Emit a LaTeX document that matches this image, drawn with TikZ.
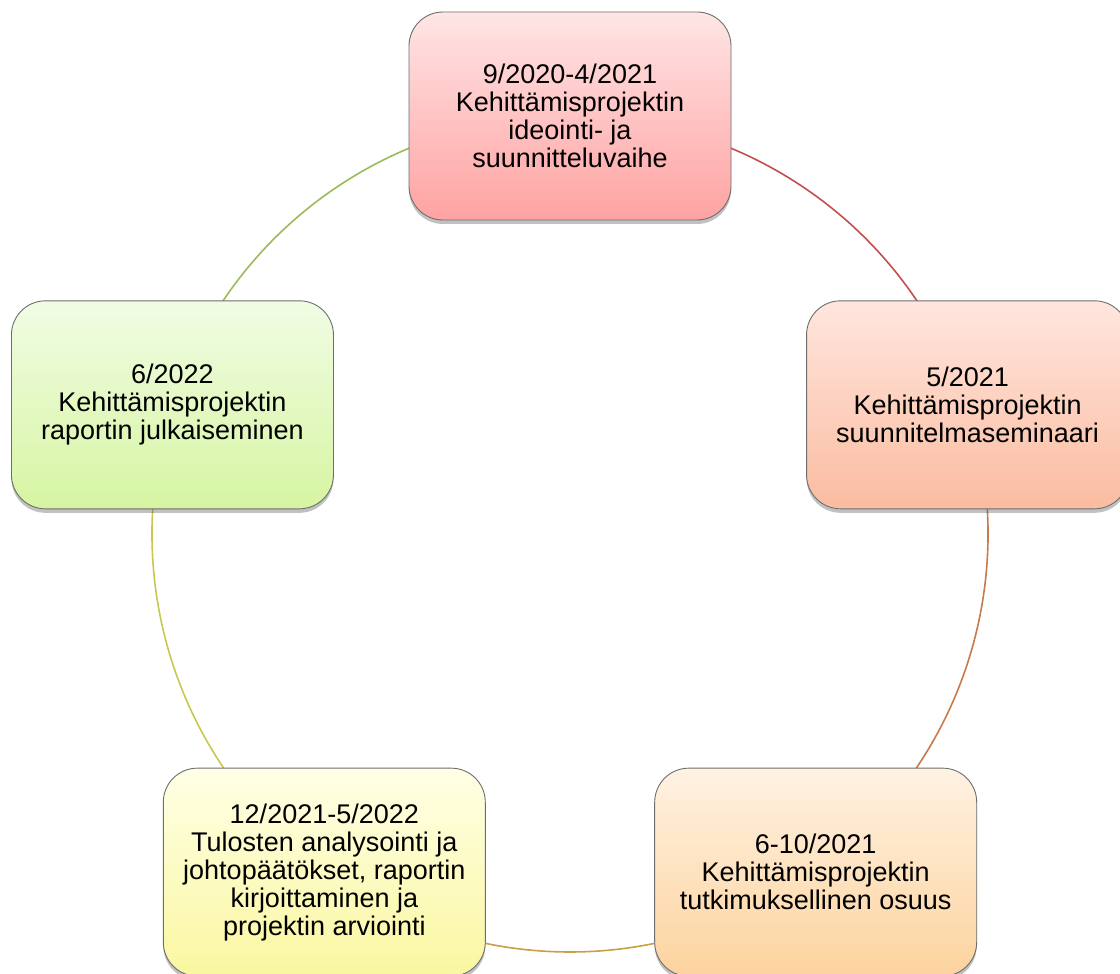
\documentclass[tikz,border=0pt]{standalone}
\usepackage{fontspec}
\setmainfont{Liberation Sans}
\usetikzlibrary{shadows, backgrounds}
\definecolor{boxgrey}{HTML}{6E6E6E}
\definecolor{arcred}{HTML}{C0504D}
\definecolor{arcorange}{HTML}{C87A4A}
\definecolor{arcgold}{HTML}{C8A040}
\definecolor{arcolive}{HTML}{C8C850}
\definecolor{arcgreen}{HTML}{9BBB59}

\tikzset{
  phase/.style={draw=boxgrey, line width=0.9pt, rounded corners=34pt,
                minimum width=322pt, minimum height=208pt, align=center,
                font=\fontsize{27pt}{28pt}\selectfont,
                drop shadow={shadow xshift=0pt, shadow yshift=-4pt, opacity=0.35, fill=black!70}},
  cycleline/.style={line width=1.6pt}
}

\begin{document}
\begin{tikzpicture}
    \useasboundingbox (0,0) rectangle (1120pt,974pt);
    \coordinate (ctr) at (570pt,440pt);

    % phases round the circle
    \path (ctr) ++(90:418pt) node[phase, top color=red!10!white, bottom color={rgb,255:red,255;green,162;blue,162}] (plan)
          {9/2020-4/2021\\ Kehittämisprojektin\\ ideointi- ja\\ suunnitteluvaihe};
    \path (ctr) ++(18:418pt) node[phase, top color={rgb,255:red,255;green,230;blue,222}, bottom color={rgb,255:red,251;green,188;blue,160}] (seminar)
          {5/2021\\ Kehittämisprojektin\\ suunnitelmaseminaari};
    \path (ctr) ++(-54:418pt) node[phase, top color={rgb,255:red,255;green,242;blue,226}, bottom color={rgb,255:red,253;green,211;blue,158}] (study)
          {6-10/2021\\ Kehittämisprojektin\\ tutkimuksellinen osuus};
    \path (ctr) ++(-126:418pt) node[phase, top color={rgb,255:red,255;green,255;blue,230}, bottom color={rgb,255:red,250;green,247;blue,160}] (analysis)
          {12/2021-5/2022\\ Tulosten analysointi ja\\ johtopäätökset, raportin\\ kirjoittaminen ja\\ projektin arviointi};
    \path (ctr) ++(162:418pt) node[phase, top color={rgb,255:red,241;green,252;blue,228}, bottom color={rgb,255:red,214;green,245;blue,162}] (publish)
          {6/2022\\ Kehittämisprojektin\\ raportin julkaiseminen};

    % arcs between the phases
    \begin{scope}[on background layer]
        \draw[cycleline, arcred] (plan.center) arc[start angle=90, end angle=18, radius=418pt];
        \draw[cycleline, arcorange] (seminar.center) arc[start angle=18, end angle=-54, radius=418pt];
        \draw[cycleline, arcgold] (study.center) arc[start angle=-54, end angle=-126, radius=418pt];
        \draw[cycleline, arcolive] (analysis.center) arc[start angle=-126, end angle=-198, radius=418pt];
        \draw[cycleline, arcgreen] (publish.center) arc[start angle=162, end angle=90, radius=418pt];
    \end{scope}
\end{tikzpicture}
\end{document}
